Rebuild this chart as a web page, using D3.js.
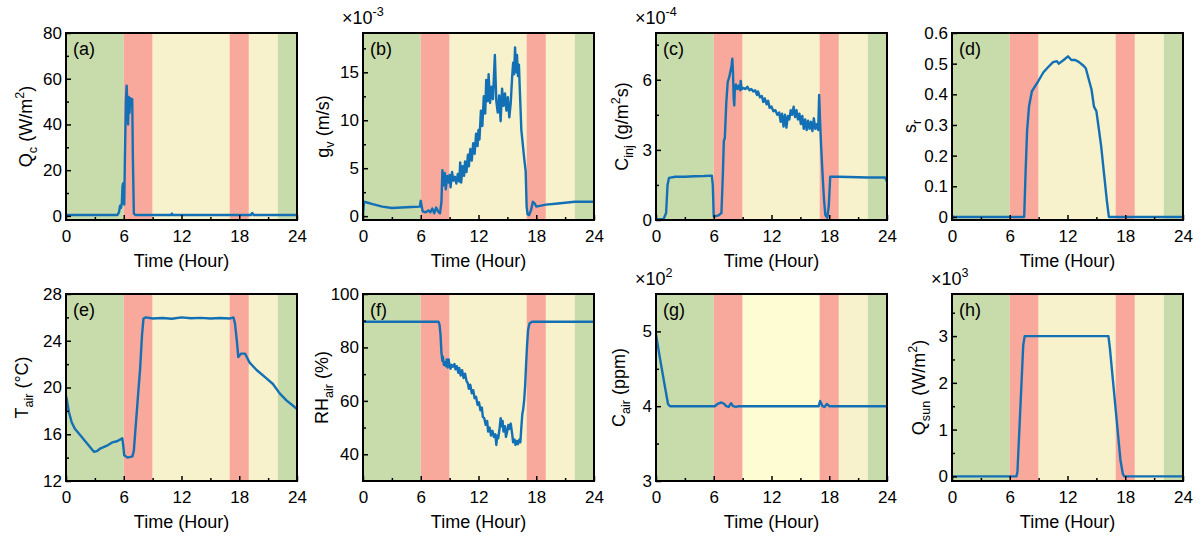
<!DOCTYPE html>
<html>
<head>
<meta charset="utf-8">
<script src="https://cdn.jsdelivr.net/npm/d3@7"></script>
<style>
body { margin: 0; background: #fff; }
svg { font-family: "Liberation Sans", Arial, sans-serif; }
.tick text { font-size: 17px; fill: #000; }
.tick line { stroke: #000; stroke-width: 1.5; }
</style>
</head>
<body>
<svg id="chart"></svg>
<script>
// time of day bands
const phaseStart = [0, 6, 9, 17, 19, 22];
const phaseEnd   = [6, 9, 17, 19, 22, 24];
const phaseKind  = ['night', 'ramp', 'day', 'ramp', 'day', 'night'];

const hourTicks = [0, 6, 12, 18, 24];
const hourMinor = [3, 9, 15, 21];

// (a) Q_c, W/m2
const qcData = [[0,0.4],[5.35,0.4],[5.5,1.5],[5.62,4.5],[5.72,3.5],[5.8,5.5],[5.87,13],[5.93,14.2],[5.98,7],[6.05,5],
  [6.12,25],[6.22,50],[6.3,57],[6.38,48],[6.45,40],[6.52,52],[6.6,45],[6.68,51.5],[6.8,51],[6.88,51],[6.95,25],[7.05,1],
  [7.2,0.4],[10.9,0.4],[11.0,1.0],[11.1,0.4],[19.2,0.4],[19.35,1.3],[19.5,0.4],[24,0.4]];

// (b) g_v, x1e-3 m/s
const gvData = [[0,0.05],[0.1,1.5],[0.5,1.4],[1,1.25],[2,1.0],[3,0.85],[4,0.9],[5,0.95],[5.9,1.0],[6.0,1.6],[6.1,1.0],
  [6.2,0.5],[6.5,0.4],[6.8,0.6],[7.0,0.4],[7.2,0.8],[7.4,0.3],[7.6,0.9],[7.8,0.5],[8.0,0.3],[8.15,1.5],[8.25,4.8],
  [8.35,3.2],[8.5,4.5],[8.6,2.8],[8.75,4.2],[8.9,3.5],[9.0,4.3],[9.1,3.0],[9.25,4.6],[9.4,3.7],[9.55,4.1],[9.7,3.4],
  [9.85,4.4],[10.0,3.6],[10.1,5.6],[10.2,3.5],[10.35,5.2],[10.5,4.2],[10.6,5.7],[10.75,4.6],[10.9,6.4],[11.0,5.2],
  [11.15,7.0],[11.3,5.8],[11.45,7.6],[11.6,6.5],[11.75,8.6],[11.9,7.3],[12.0,9.0],[12.1,8.0],[12.25,11.0],[12.4,9.4],
  [12.55,12.5],[12.7,10.7],[12.8,14.2],[12.95,12.0],[13.05,14.8],[13.2,11.8],[13.35,13.5],[13.5,12.2],[13.7,16.8],
  [13.85,12.0],[14.0,10.8],[14.15,12.6],[14.3,9.9],[14.45,13.3],[14.6,11.5],[14.75,12.8],[14.9,11.0],[15.05,12.4],
  [15.2,10.3],[15.35,11.8],[15.5,14.6],[15.6,16.0],[15.7,14.8],[15.8,17.6],[15.9,15.0],[16.0,16.8],[16.1,14.6],
  [16.2,15.8],[16.3,13.0],[16.45,9.0],[16.6,7.5],[16.75,6.0],[16.9,4.7],[17.0,1.0],[17.1,0.2],[17.25,0.1],[17.45,0.6],
  [17.65,1.5],[17.85,1.3],[18.0,1.0],[18.5,1.1],[19,1.2],[20,1.3],[21,1.4],[22,1.5],[23,1.5],[24,1.5]];

// (c) C_inj, x1e-4 g/m2s
const cinjData = [[0,0.02],[0.8,0.05],[1.05,0.3],[1.2,1.5],[1.35,1.8],[2,1.85],[3,1.85],[4,1.87],[5,1.88],[5.8,1.9],
  [5.9,1.5],[6.0,0.15],[6.5,0.2],[6.8,0.3],[6.95,2.0],[7.05,3.4],[7.15,3.5],[7.3,5.0],[7.45,5.9],[7.6,6.1],[7.75,6.4],
  [7.85,6.6],[7.93,6.9],[8.0,6.3],[8.07,5.2],[8.13,4.9],[8.2,5.7],[8.3,5.8],[8.45,5.6],[8.6,5.75],[8.75,5.55],[8.8,5.95],
  [8.9,5.6],[9.1,5.65],[9.3,5.6],[9.5,5.7],[9.7,5.55],[9.9,5.6],[10.1,5.5],[10.3,5.55],[10.5,5.35],[10.6,5.5],[10.8,5.25],
  [11.0,5.3],[11.15,5.05],[11.3,5.2],[11.5,4.95],[11.65,5.1],[11.8,4.8],[12.0,4.85],[12.2,4.65],[12.4,4.7],[12.6,4.5],
  [12.8,4.6],[12.95,4.2],[13.1,4.55],[13.25,4.0],[13.4,4.5],[13.55,3.95],[13.7,4.45],[13.85,4.3],[14.0,4.7],[14.15,4.5],
  [14.3,4.85],[14.45,4.4],[14.6,4.7],[14.75,4.3],[14.9,4.55],[15.05,4.1],[15.2,4.45],[15.35,3.9],[15.5,4.3],[15.65,3.85],
  [15.8,4.25],[15.95,3.9],[16.1,4.2],[16.25,3.8],[16.4,4.35],[16.55,3.9],[16.7,4.1],[16.85,3.85],[16.95,5.35],[17.05,4.2],
  [17.15,3.2],[17.3,2.0],[17.45,0.9],[17.6,0.2],[17.8,0.1],[17.95,0.6],[18.1,1.85],[19,1.85],[20,1.84],[21,1.83],
  [22,1.82],[23,1.82],[23.8,1.82],[24,1.65]];

// (d) s_r
const srData = [[0,0],[7.5,0],[7.65,0.15],[7.8,0.28],[8.0,0.36],[8.3,0.41],[9,0.445],[9.5,0.472],[10,0.489],[10.5,0.505],
  [10.9,0.508],[11.1,0.5],[11.6,0.512],[12.05,0.524],[12.4,0.512],[12.8,0.512],[13.2,0.505],[13.6,0.495],[13.9,0.485],
  [14.2,0.45],[14.5,0.415],[14.75,0.36],[15.0,0.345],[15.2,0.3],[15.5,0.23],[15.8,0.14],[16.1,0.05],[16.3,0],[24,0]];

// (e) T_air, degC
const tairData = [[0,19.3],[0.1,18.9],[0.3,17.9],[0.6,17.0],[0.9,16.5],[1.4,16.0],[2.0,15.4],[2.6,14.8],[2.9,14.5],
  [3.2,14.55],[3.6,14.8],[4.2,15.0],[4.8,15.3],[5.3,15.4],[5.85,15.65],[5.95,15.0],[6.05,14.2],[6.4,14.0],[6.9,14.1],
  [7.05,14.6],[7.25,16.8],[7.5,19.5],[7.7,21.6],[7.9,24.5],[8.05,25.9],[8.3,26.0],[9,25.9],[10,25.95],[11,25.88],
  [12,26.0],[13,25.92],[14,25.96],[15,25.9],[16,25.95],[17,25.9],[17.4,26.0],[17.55,25.5],[17.75,24.0],[17.9,22.6],
  [18.2,22.9],[18.6,22.9],[19.1,22.1],[19.8,21.5],[20.8,20.8],[21.5,20.3],[22.2,19.5],[22.9,18.9],[23.5,18.5],[24,18.15]];

// (f) RH_air, %
const rhData = [[0,89.6],[7.85,89.6],[7.95,88.5],[8.05,85],[8.15,78],[8.25,75],[8.3,76.5],[8.4,73.5],[8.5,74.5],[8.6,73],
  [8.7,75.5],[8.8,72.5],[8.9,75.5],[9.0,73],[9.1,72],[9.2,73.5],[9.35,72.8],[9.5,73.8],[9.6,71.8],[9.75,73],[9.9,70.5],
  [10.0,72.3],[10.15,69.5],[10.3,71.5],[10.45,68.5],[10.6,70.2],[10.75,67.5],[10.9,66.5],[11.0,64.5],[11.15,66],
  [11.3,62.8],[11.45,64],[11.6,61],[11.75,61.5],[11.9,58.5],[12.05,59.5],[12.2,56.5],[12.35,57.5],[12.45,54],[12.6,53.5],
  [12.75,51],[12.9,52.5],[13.0,48.5],[13.15,50],[13.3,47],[13.45,48.8],[13.6,46.5],[13.75,47.5],[13.85,43.5],[13.95,47],
  [14.05,46],[14.2,50],[14.3,53.5],[14.4,50.5],[14.5,52.5],[14.6,48.5],[14.75,50.5],[14.85,46.5],[14.95,48],[15.1,51],
  [15.2,49.5],[15.35,51.5],[15.5,47.5],[15.6,44.5],[15.75,45.5],[15.85,43.5],[16.0,45],[16.1,43.8],[16.25,45.5],
  [16.35,44.5],[16.45,50],[16.55,55],[16.65,57],[16.75,60.5],[16.85,66],[16.95,74],[17.05,81],[17.15,86.5],[17.3,89],
  [17.55,89.6],[24,89.6]];

// (g) C_air, x1e2 ppm
const cairData = [[0,4.96],[0.4,4.65],[0.9,4.28],[1.25,4.03],[1.45,4.0],[6.1,4.0],[6.4,4.03],[6.8,4.05],[7.1,4.03],
  [7.3,4.0],[7.55,3.99],[7.8,4.04],[8.0,4.0],[8.3,3.99],[8.6,4.0],[16.9,4.0],[17.05,4.07],[17.3,4.0],[17.5,3.99],
  [17.75,4.03],[18.0,4.0],[24,4.0]];

// (h) Q_sun, x1e3 W/m2
const qsunData = [[0,0],[6.7,0],[6.8,0.1],[7.4,2.8],[7.55,3.0],[16.25,3.0],[16.4,2.75],[17.5,0.35],[17.75,0.05],[17.9,0],[24,0]];

const panelTags   = ['(a)', '(b)', '(c)', '(d)', '(e)', '(f)', '(g)', '(h)'];
const panelLabels = ['Q_{c} (W/m^{2})', 'g_{v} (m/s)', 'C_{inj} (g/m^{2}s)', 's_{r}',
                     'T_{air} (°C)', 'RH_{air} (%)', 'C_{air} (ppm)', 'Q_{sun} (W/m^{2})'];
const panelScales = [null, '×10^{-3}', '×10^{-4}', null, null, null, '×10^{2}', '×10^{3}'];
const panelSeries = [qcData, gvData, cinjData, srData, tairData, rhData, cairData, qsunData];
const panelDomains = [[-1.8, 80], [-0.4, 19.1], [0, 8], [-0.01, 0.6], [12, 28], [30, 100], [3, 5.5], [-0.1, 3.9]];
const panelTicks = [[0, 20, 40, 60, 80], [0, 5, 10, 15], [0, 3, 6], [0, 0.1, 0.2, 0.3, 0.4, 0.5, 0.6],
                    [12, 16, 20, 24, 28], [40, 60, 80, 100], [3, 4, 5], [0, 1, 2, 3]];
const panelMinor = [[10, 30, 50, 70], [2.5, 7.5, 12.5, 17.5], [1.5, 4.5, 7.5], [],
                    [14, 18, 22, 26], [50, 70, 90], [3.5, 4.5], [0.5, 1.5, 2.5, 3.5]];

const width = 1200;
const height = 541;
const plotW = 231;
const plotH = 187;
const colLeft = [66, 363, 656, 952];
const rowTop = [33, 294];
const labelOffset = [34, 34, 28, 36, 38, 35, 31, 27];

const bandColor = { night: '#c8dbaa', ramp: '#f9a99b', day: '#f7f2cc' };
const lineColor = '#1470b5';

const svg = d3.select('#chart')
	.attr('width', width)
	.attr('height', height);

const phases = phaseStart.map((s, i) => ({ from: s, to: phaseEnd[i], kind: phaseKind[i] }));

// text with _{sub} and ^{sup} parts
function richText(sel, str, size) {
	const parts = str.split(/(_\{[^}]*\}|\^\{[^}]*\})/).filter(s => s);
	let prev = 0;
	parts.forEach(s => {
		let shift = 0, fs = size, txt = s;
		if (s.startsWith('_{')) { txt = s.slice(2, -1); shift = size * 0.28; fs = size * 0.7; }
		else if (s.startsWith('^{')) { txt = s.slice(2, -1); shift = -size * 0.42; fs = size * 0.7; }
		sel.append('tspan').attr('dy', shift - prev).attr('font-size', fs).text(txt);
		prev = shift;
	});
}

panelSeries.forEach((data, i) => {
	const left = colLeft[i % 4];
	const top = rowTop[Math.floor(i / 4)];
	const g = svg.append('g').attr('transform', `translate(${left},${top})`);

	const xScale = d3.scaleLinear().domain([0, 24]).range([0, plotW]);
	const yScale = d3.scaleLinear().domain(panelDomains[i]).range([plotH, 0]);

	g.selectAll('rect.band').data(phases)
		.enter().append('rect')
			.attr('class', 'band')
			.attr('x', d => xScale(d.from))
			.attr('width', d => xScale(d.to) - xScale(d.from))
			.attr('y', 0)
			.attr('height', plotH)
			.attr('fill', d => (i === 6 && d.from === 9) ? '#fefcd2' : bandColor[d.kind]);

	g.append('clipPath').attr('id', `clip${i}`)
		.append('rect').attr('x', -2).attr('width', plotW + 2).attr('height', plotH);

	const line = d3.line()
		.x(d => xScale(d[0]))
		.y(d => yScale(d[1]));

	g.append('path')
		.datum(data)
		.attr('clip-path', `url(#clip${i})`)
		.attr('fill', 'none')
		.attr('stroke', lineColor)
		.attr('stroke-width', 2.4)
		.attr('stroke-linejoin', 'round')
		.attr('d', line);

	// axes, ticks inward
	const xAxisGroup = g.append('g')
		.attr('transform', `translate(0,${plotH})`)
		.call(d3.axisBottom(xScale).tickValues(hourTicks).tickSize(-5).tickPadding(10));
	xAxisGroup.select('.domain').remove();
	const xMinor = g.append('g')
		.attr('transform', `translate(0,${plotH})`)
		.call(d3.axisBottom(xScale).tickValues(hourMinor).tickSize(-3).tickFormat(''));
	xMinor.select('.domain').remove();

	const yAxisGroup = g.append('g')
		.call(d3.axisLeft(yScale).tickValues(panelTicks[i]).tickSize(-5).tickPadding(4).tickFormat(d3.format('~g')));
	yAxisGroup.select('.domain').remove();
	const yMinor = g.append('g')
		.call(d3.axisLeft(yScale).tickValues(panelMinor[i]).tickSize(-3).tickFormat(''));
	yMinor.select('.domain').remove();

	g.append('rect')
		.attr('width', plotW)
		.attr('height', plotH)
		.attr('fill', 'none')
		.attr('stroke', '#000')
		.attr('stroke-width', 2);

	g.append('text')
		.attr('x', 7)
		.attr('y', 22)
		.attr('font-size', 18)
		.text(panelTags[i]);

	g.append('text')
		.attr('x', plotW / 2)
		.attr('y', plotH + 47)
		.attr('text-anchor', 'middle')
		.attr('font-size', 18)
		.text('Time (Hour)');

	const yLabel = g.append('text')
		.attr('transform', `translate(${-labelOffset[i]},${plotH / 2}) rotate(-90)`)
		.attr('text-anchor', 'middle')
		.attr('font-size', 18);
	richText(yLabel, panelLabels[i], 18);

	if (panelScales[i]) {
		const mult = g.append('text')
			.attr('x', -21)
			.attr('y', -9)
			.attr('font-size', 18);
		richText(mult, panelScales[i], 18);
	}
});
</script>
</body>
</html>
